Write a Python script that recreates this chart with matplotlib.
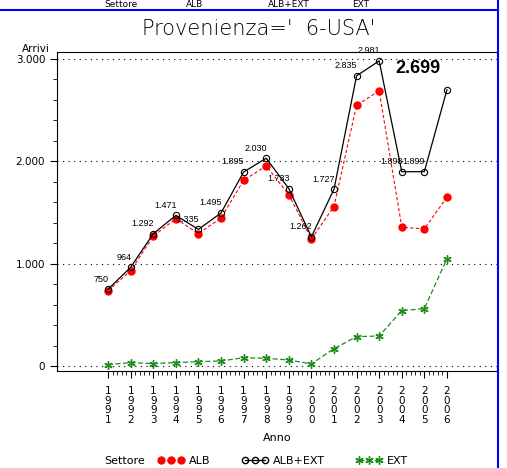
import matplotlib
matplotlib.use('Agg')
import matplotlib.pyplot as plt
from matplotlib.lines import Line2D
from matplotlib.ticker import MultipleLocator, FixedLocator

plt.rcParams['font.family'] = ['Liberation Sans Narrow', 'DejaVu Sans']

# Dati
anni = list(range(1991, 2007))
alb_ext = [750, 964, 1292, 1471, 1335, 1495, 1895, 2030, 1733, 1262, 1727, 2835, 2981, 1898, 1899, 2699]
alb = [737, 931, 1269, 1438, 1293, 1446, 1814, 1955, 1674, 1242, 1558, 2548, 2688, 1357, 1339, 1650]
ext = [13, 33, 23, 33, 42, 49, 81, 75, 59, 20, 169, 287, 293, 541, 560, 1049]

def fmt(v):
    return f"{v:,}".replace(",", ".")

fig = plt.figure(figsize=(5.07, 4.68), dpi=100)
ax = fig.add_axes([57 / 507, 1 - 371 / 468, 441 / 507, 319 / 468])

ax.plot(anni, alb, color='#ff0000', linestyle=(0, (3, 2)), linewidth=0.8,
        marker='o', markersize=5, markerfacecolor='#ff0000', markeredgecolor='#ff0000')
ax.plot(anni, alb_ext, color='black', linestyle='-', linewidth=0.9,
        marker='o', markersize=4.5, markerfacecolor='none', markeredgecolor='black', markeredgewidth=0.8)
ax.plot(anni, ext, color='#1e8c1e', linestyle=(0, (4, 2)), linewidth=0.9,
        marker=(6, 2, 0), markersize=6, markeredgecolor='#1e8c1e', markeredgewidth=1.0)

# Etichette dei valori
for a, v in zip(anni[:-1], alb_ext[:-1]):
    ax.annotate(fmt(v), xy=(a, v), xytext=(0.5, 4), textcoords='offset points',
                ha='right', va='bottom', fontsize=6.5, family=['Liberation Sans', 'DejaVu Sans'])
ax.annotate(fmt(alb_ext[-1]), xy=(anni[-1], alb_ext[-1]), xytext=(-21, 15), textcoords='offset points',
            ha='center', va='center', fontsize=13, fontweight='bold', family=['Liberation Sans', 'DejaVu Sans'])

ax.set_xlim(1988.74, 2008.26)
ax.set_ylim(-49, 3068)

ax.yaxis.set_major_locator(FixedLocator([0, 1000, 2000, 3000]))
ax.yaxis.set_minor_locator(MultipleLocator(200))
ax.set_yticklabels(['0', '1.000', '2.000', '3.000'], fontsize=7.5)
ax.xaxis.set_major_locator(FixedLocator(anni))
ax.xaxis.set_minor_locator(FixedLocator([1991 + i * 0.2 for i in range(76)]))
ax.set_xticklabels(['\n'.join(str(a)) for a in anni], fontsize=7.5, linespacing=0.95)

ax.tick_params(axis='both', which='major', direction='out', length=5, width=0.8)
ax.tick_params(axis='both', which='minor', direction='out', length=3, width=0.6)
ax.tick_params(axis='x', pad=6)

for y in [0, 1000, 2000, 3000]:
    ax.axhline(y, color='black', linestyle=(0, (1, 4)), linewidth=0.8, zorder=0)

ax.spines['right'].set_visible(False)
for s in ['left', 'top', 'bottom']:
    ax.spines[s].set_linewidth(0.8)

ax.set_xlabel('Anno', fontsize=8, labelpad=6)
fig.text(22 / 507, 1 - 49 / 468, 'Arrivi', fontsize=7.5, ha='left', va='center')

fig.text(259 / 507, 1 - 29 / 468, "Provenienza='  6-USA'", fontsize=15, fontweight='light',
         ha='center', va='center')

# Legenda
fig.text(104 / 507, 1 - 461 / 468, 'Settore', fontsize=8, ha='left', va='center')
handles = [
    Line2D([], [], color='#ff0000', linestyle=(0, (3, 2)), linewidth=0.8, marker='o', markersize=5),
    Line2D([], [], color='black', linewidth=0.9, marker='o', markersize=4.5, markerfacecolor='none'),
    Line2D([], [], color='#1e8c1e', linestyle=(0, (4, 2)), linewidth=0.9, marker=(6, 2, 0), markersize=6),
]
fig.legend(handles, ['ALB', 'ALB+EXT', 'EXT'], ncol=3, frameon=False, fontsize=8,
           loc='center left', bbox_to_anchor=(148 / 507, 1 - 461 / 468),
           handlelength=2.4, handletextpad=0.4, columnspacing=2.8, numpoints=3)

# Pannello precedente (intestazione in alto)
for txt, x in [('Settore', 104), ('ALB', 186), ('ALB+EXT', 268), ('EXT', 352)]:
    fig.text(x / 507, 1.0, txt, fontsize=6.5, ha='left', va='top')

# Bordo blu
fig.add_artist(Line2D([0, 498 / 507], [1 - 10 / 468, 1 - 10 / 468], color='#0000ff', linewidth=1.5))
fig.add_artist(Line2D([498 / 507, 498 / 507], [0, 1], color='#0000ff', linewidth=1.5))

fig.savefig('out.png', dpi=100)
